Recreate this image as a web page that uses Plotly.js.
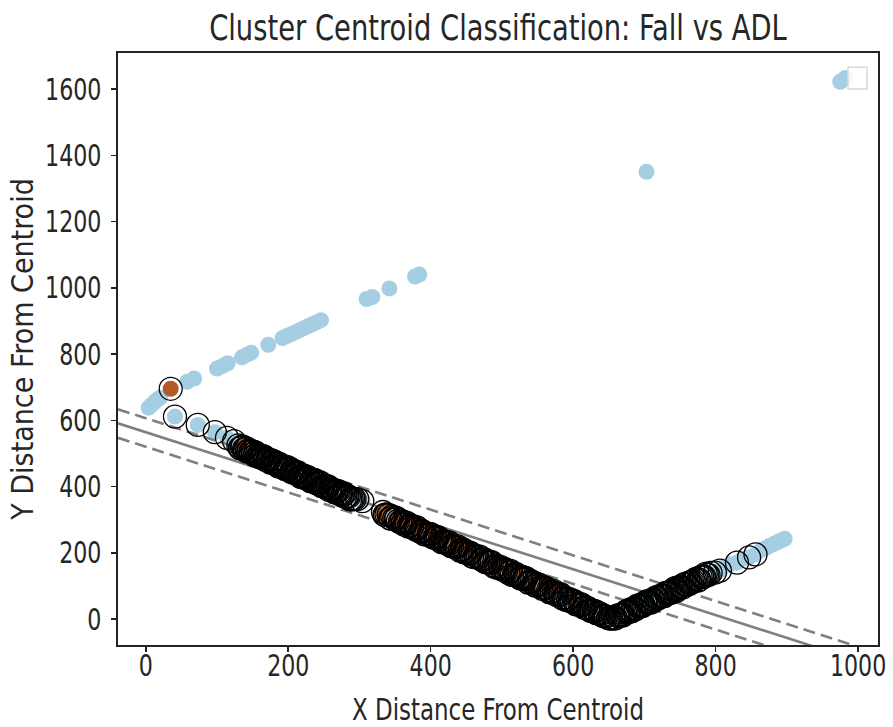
<!DOCTYPE html>
<html>
<head>
<meta charset="utf-8">
<script src="https://cdn.plot.ly/plotly-3.0.1.min.js"></script>
<style>
  html, body { margin: 0; padding: 0; background: #ffffff; overflow: hidden; }
  #chart { width: 893px; height: 727px; }
</style>
</head>
<body>
<div id="chart"></div>
<script>
// ---------------- DATA ----------------
// ADL samples that are not support vectors
const adlX = [4, 8, 12, 16, 20, 58, 68, 100, 108, 115, 135, 142, 148, 172, 192, 198, 204, 210, 216, 222, 228, 234, 240, 246, 310, 318, 342, 378, 384, 703, 975, 982,
              812, 820, 838, 864, 870, 876, 882, 888, 893, 897];
const adlY = [638, 646, 654, 662, 668, 716, 726, 756, 764, 772, 790, 798, 804, 828, 848, 854, 860, 866, 872, 878, 884, 890, 896, 902, 966, 972, 998, 1034, 1040, 1350, 1622, 1633,
              158, 165, 182, 208, 214, 221, 227, 233, 238, 242];

// Support vectors (class: F = Fall, A = ADL)
const svX = [35, 41, 73, 97, 114, 124,
  130, 133, 136, 139, 142, 145, 148, 151, 154, 157, 160, 163, 166, 169, 172, 175, 178, 181, 184, 187, 190, 193, 196, 199,
  202, 205, 208, 211, 214, 217, 220, 223, 226, 229, 232, 235, 238, 241, 244, 247, 250, 253, 256, 259, 262, 265, 268, 271,
  274, 277, 280, 283, 287, 291, 297, 304,
  132, 135, 138, 141, 144, 147, 150, 153, 156, 159, 162, 165, 168, 171, 174, 177, 180, 183, 186, 189, 192, 195, 198, 201,
  204, 207, 210, 213, 216, 219, 222, 225, 228, 231, 234, 237, 240, 243, 246, 249, 252, 255, 258, 261, 264, 267, 270, 273,
  276, 279, 282, 285, 289, 293,
  333, 336, 341, 344, 349, 352, 357, 361, 364, 369, 372, 377, 380, 385, 389, 392, 397, 400, 405, 408, 413, 417, 420, 425,
  428, 433, 436, 441, 445, 448, 453, 456, 461, 464, 469, 473, 476, 481, 484, 489, 492, 497, 501, 504, 509, 512, 517, 520,
  525, 529, 532, 537, 540, 545, 548, 553, 557, 560, 565, 568, 573, 576, 581, 585, 588, 593, 596, 601, 604, 609, 613, 616,
  621, 624, 629, 632, 637, 641, 644, 649, 653,
  335, 338, 343, 346, 351, 354, 359, 363, 366, 371, 374, 379, 382, 387, 391, 394, 399, 402, 407, 410, 415, 419, 422, 427,
  430, 435, 438, 443, 447, 450, 455, 458, 463, 466, 471, 475, 478, 483, 486, 491, 494, 499, 503, 506, 511, 514, 519, 522,
  527, 531, 534, 539, 542, 547, 550, 555, 559, 562, 567, 570, 575, 578, 583, 587, 590, 595, 598, 603, 606, 611, 615, 618,
  623, 626, 631, 634, 639, 643, 646, 651,
  656, 660, 663, 667, 671, 675, 678, 682, 686, 690, 694, 697, 701, 705, 709, 712, 716, 720, 724, 728, 731, 735, 739, 743,
  746, 750, 754, 758, 762, 765, 769, 773, 777, 781, 784, 788,
  658, 662, 665, 669, 673, 677, 680, 684, 688, 692, 696, 699, 703, 707, 711, 714, 718, 722, 726, 730, 733, 737, 741, 745,
  748, 752, 756, 760, 764, 767, 771, 775, 779, 783, 786, 790, 793,
  799, 806, 830, 847, 856];
const svY = [695, 611, 586, 564, 547, 537,
  524, 516, 520, 512, 505, 510, 504, 499, 503, 491, 493, 486, 490, 485, 479, 472, 477, 469, 468, 469, 459, 460, 452, 455,
  455, 446, 441, 441, 441, 430, 434, 426, 430, 422, 415, 420, 414, 409, 413, 401, 403, 396, 400, 395, 389, 382, 387, 379,
  378, 379, 369, 370, 361, 363, 362, 356,
  516, 520, 513, 516, 506, 505, 506, 494, 498, 490, 491, 492, 480, 481, 481, 473, 476, 468, 461, 465, 460, 454, 459, 452,
  444, 448, 440, 443, 435, 428, 432, 427, 427, 417, 419, 420, 409, 408, 410, 401, 400, 400, 389, 393, 389, 382, 386, 378,
  372, 378, 370, 369, 361, 362,
  323, 314, 314, 303, 304, 305, 292, 291, 290, 279, 283, 274, 277, 264, 264, 255, 257, 256, 245, 244, 242, 231, 233, 232,
  221, 218, 218, 206, 211, 204, 197, 199, 187, 189, 188, 178, 173, 173, 172, 158, 160, 158, 149, 149, 139, 145, 134, 134,
  124, 127, 120, 110, 115, 108, 102, 103, 91, 94, 87, 81, 84, 75, 74, 62, 65, 61, 54, 55, 44, 43, 42, 35,
  33, 25, 24, 18, 17, 10, 9, 3, 1,
  314, 316, 304, 310, 301, 296, 296, 285, 291, 282, 277, 270, 274, 267, 256, 258, 256, 248, 246, 247, 233, 232, 232, 229,
  219, 217, 219, 207, 201, 203, 200, 189, 191, 186, 180, 181, 171, 170, 171, 159, 154, 153, 152, 145, 143, 133, 137, 131,
  122, 121, 123, 111, 112, 101, 105, 96, 94, 94, 80, 82, 79, 71, 74, 64, 58, 60, 54, 51, 44, 45, 34, 35,
  29, 24, 24, 17, 15, 9, 7, 2,
  3, 3, 11, 12, 13, 24, 24, 23, 33, 40, 38, 39, 49, 50, 49, 59, 65, 63, 70, 69, 79, 80, 81, 93,
  90, 97, 95, 104, 110, 108, 114, 122, 119, 128, 128, 134,
  1, 10, 10, 10, 20, 21, 29, 30, 30, 37, 44, 42, 53, 51, 58, 55, 63, 70, 69, 79, 79, 79, 88, 85,
  96, 97, 105, 103, 110, 111, 119, 116, 126, 128, 136, 133, 139,
  140, 146, 170, 186, 195];
const svClass = ['F', 'A', 'A', 'A', 'A', 'A',
  'A', 'A', 'A', 'F', 'A', 'F', 'F', 'F', 'A', 'F', 'F', 'A', 'F', 'A', 'A', 'F', 'A', 'F', 'A', 'F', 'F', 'A', 'F', 'F',
  'A', 'F', 'A', 'A', 'F', 'A', 'F', 'A', 'A', 'F', 'A', 'A', 'F', 'F', 'A', 'F', 'A', 'F', 'A', 'F', 'F', 'A', 'F', 'F',
  'F', 'A', 'F', 'A', 'A', 'A', 'A', 'A',
  'A', 'F', 'A', 'F', 'F', 'A', 'F', 'A', 'F', 'F', 'A', 'F', 'A', 'F', 'A', 'A', 'F', 'A', 'F', 'A', 'F', 'F', 'A', 'F',
  'A', 'A', 'F', 'A', 'F', 'A', 'F', 'A', 'A', 'F', 'F', 'A', 'F', 'A', 'F', 'A', 'F', 'F', 'A', 'F', 'A', 'F', 'F', 'A',
  'F', 'A', 'F', 'A', 'A', 'A',
  'F', 'F', 'F', 'F', 'F', 'F', 'A', 'F', 'F', 'A', 'F', 'F', 'F', 'F', 'F', 'A', 'F', 'F', 'F', 'F', 'F', 'F', 'A', 'F',
  'F', 'F', 'F', 'A', 'F', 'A', 'A', 'F', 'A', 'A', 'F', 'F', 'F', 'A', 'F', 'F', 'F', 'F', 'F', 'A', 'A', 'F', 'F', 'F',
  'F', 'A', 'F', 'F', 'A', 'A', 'F', 'F', 'F', 'F', 'F', 'A', 'A', 'F', 'A', 'F', 'A', 'A', 'F', 'A', 'A', 'F', 'A', 'A',
  'F', 'A', 'A', 'A', 'A', 'F', 'A', 'A', 'A',
  'F', 'F', 'F', 'A', 'F', 'F', 'F', 'A', 'F', 'F', 'F', 'A', 'F', 'F', 'F', 'F', 'A', 'F', 'F', 'F', 'F', 'A', 'F', 'F',
  'F', 'A', 'F', 'F', 'A', 'F', 'A', 'F', 'F', 'A', 'F', 'F', 'A', 'F', 'F', 'F', 'A', 'F', 'F', 'A', 'F', 'F', 'F', 'A',
  'F', 'F', 'A', 'F', 'A', 'F', 'F', 'F', 'A', 'F', 'A', 'F', 'F', 'A', 'F', 'A', 'A', 'F', 'A', 'A', 'F', 'A', 'A', 'F',
  'A', 'A', 'A', 'F', 'A', 'A', 'A', 'A',
  'A', 'A', 'A', 'F', 'A', 'A', 'A', 'A', 'A', 'F', 'A', 'A', 'F', 'A', 'A', 'A', 'F', 'A', 'A', 'A', 'A', 'F', 'A', 'A',
  'A', 'A', 'A', 'F', 'A', 'A', 'A', 'A', 'A', 'F', 'A', 'A',
  'A', 'A', 'F', 'A', 'A', 'A', 'A', 'A', 'F', 'A', 'A', 'A', 'A', 'A', 'F', 'A', 'A', 'A', 'A', 'A', 'A', 'A', 'F', 'A',
  'A', 'A', 'A', 'A', 'A', 'A', 'F', 'A', 'A', 'A', 'A', 'A', 'A',
  'A', 'A', 'A', 'A', 'A'];

// Linear decision boundary y = slope * x + intercept, and its two margins
const boundarySlope = -0.69;
const boundaryIntercepts = [606, 564, 520];   // upper margin, decision line, lower margin

const xTickVals = [0, 200, 400, 600, 800, 1000];
const yTickVals = [0, 200, 400, 600, 800, 1000, 1200, 1400, 1600];

// ---------------- STYLE ----------------
const FONT = '"DejaVu Sans Condensed", "DejaVu Sans", sans-serif';
const TXT = '#262626';
const COLORS = { A: '#a6cee3', F: '#b15928' };
const xRange = [-39, 1028];
const yRange = [-78.5, 1708.7];

// all samples (filled dots)
const allX = adlX.concat(svX);
const allY = adlY.concat(svY);
const allC = adlX.map(() => COLORS.A).concat(svClass.map(c => COLORS[c]));

const traces = [];
traces.push({
  type: 'scatter', mode: 'markers', x: allX, y: allY,
  marker: { size: 16, color: allC, line: { width: 0 } },
  hoverinfo: 'x+y', showlegend: false
});

const dashes = ['12px,6px', 'solid', '12px,6px'];
boundaryIntercepts.forEach((b, i) => {
  traces.push({
    type: 'scatter', mode: 'lines',
    x: xRange, y: xRange.map(x => boundarySlope * x + b),
    line: { color: '#808080', width: 2.6, dash: dashes[i] },
    hoverinfo: 'skip', showlegend: false
  });
});

traces.push({
  type: 'scatter', mode: 'markers', x: svX, y: svY,
  marker: { size: 23, symbol: 'circle-open', color: '#000000', line: { width: 1.3, color: '#000000' } },
  hoverinfo: 'x+y', showlegend: false
});

const axisCommon = {
  showgrid: false, zeroline: false,
  showline: true, mirror: true, linecolor: '#222222', linewidth: 1.6,
  ticks: 'outside', ticklen: 5, tickwidth: 1.5, tickcolor: '#222222',
  tickfont: { family: FONT, size: 30, color: TXT }
};

const layout = {
  width: 893, height: 727,
  margin: { l: 118, r: 15, t: 53, b: 82 },
  paper_bgcolor: '#ffffff', plot_bgcolor: '#ffffff',
  font: { family: FONT, color: TXT },
  showlegend: false,
  title: {
    text: 'Cluster Centroid Classification: Fall vs ADL',
    font: { family: FONT, size: 36, color: TXT },
    x: 0.5, xref: 'paper', xanchor: 'center',
    y: 0.962, yref: 'container', yanchor: 'middle'
  },
  xaxis: Object.assign({}, axisCommon, {
    range: xRange, tickvals: xTickVals, ticktext: xTickVals.map(String),
    ticklabelstandoff: -12,
    title: { text: 'X Distance From Centroid', font: { family: FONT, size: 30, color: TXT }, standoff: 35 }
  }),
  yaxis: Object.assign({}, axisCommon, {
    range: yRange, tickvals: yTickVals, ticktext: yTickVals.map(String),
    ticklabelstandoff: 4,
    title: { text: 'Y Distance From Centroid', font: { family: FONT, size: 30, color: TXT }, standoff: 0 }
  }),
  shapes: [{
    type: 'rect', xref: 'paper', yref: 'paper', layer: 'above',
    x0: 0.9605, x1: 0.9855, y0: 0.939, y1: 0.976,
    line: { color: '#d9d9d9', width: 1.5 }, fillcolor: 'rgba(255,255,255,0.85)'
  }]
};

// The reference renders horizontal text narrower than the installed font; squeeze those glyphs.
function narrowText(gd) {
  const rules = [['.xtick text', 0.82], ['.ytick text', 0.82], ['.gtitle', 0.845], ['.xtitle', 0.85]];
  rules.forEach(([sel, f]) => {
    gd.querySelectorAll(sel).forEach(t => {
      const w = t.getComputedTextLength();
      if (w > 0) {
        t.setAttribute('textLength', (w * f).toFixed(1));
        t.setAttribute('lengthAdjust', 'spacingAndGlyphs');
      }
    });
  });
  // fine placement of the y axis title, as in the reference
  gd.querySelectorAll('.g-ytitle').forEach(g => {
    g.setAttribute('transform', ((g.getAttribute('transform') || '') + ' translate(5,0)').trim());
  });
}

Plotly.newPlot('chart', traces, layout, { displayModeBar: false, staticPlot: true })
  .then(gd => narrowText(gd));
</script>
</body>
</html>
